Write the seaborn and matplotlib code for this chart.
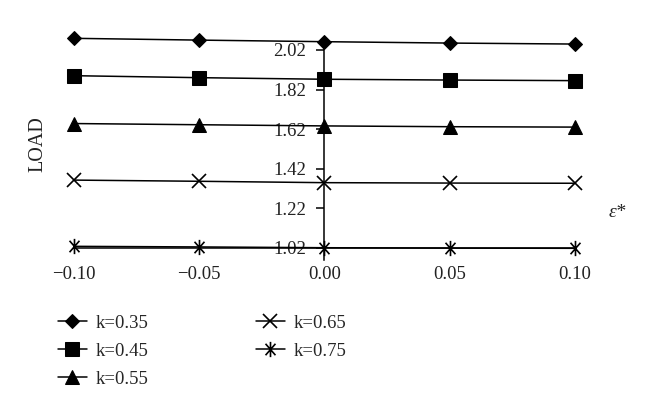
import numpy as np
import pandas as pd
import matplotlib
matplotlib.use("Agg")
import matplotlib.pyplot as plt
from matplotlib.path import Path
import seaborn as sns

# data
eps = [-0.10, -0.05, 0.00, 0.05, 0.10]
load_k035 = [2.079, 2.070, 2.062, 2.055, 2.050]
load_k045 = [1.890, 1.880, 1.872, 1.868, 1.865]
load_k055 = [1.648, 1.642, 1.636, 1.632, 1.630]
load_k065 = [1.362, 1.356, 1.349, 1.347, 1.346]
load_k075 = [1.027, 1.024, 1.020, 1.018, 1.017]
labels = ["k=0.35", "k=0.45", "k=0.55", "k=0.65", "k=0.75"]
yticks = [1.02, 1.22, 1.42, 1.62, 1.82, 2.02]
xticks = [-0.10, -0.05, 0.00, 0.05, 0.10]

# asterisk marker: vertical bar plus an x
star = Path(
    [(0, -1), (0, 1), (-0.65, -0.75), (0.65, 0.75), (-0.65, 0.75), (0.65, -0.75)],
    [Path.MOVETO, Path.LINETO, Path.MOVETO, Path.LINETO, Path.MOVETO, Path.LINETO],
)

sns.set_style("white")
plt.rcParams["font.family"] = ["Liberation Serif", "DejaVu Serif"]

fig = plt.figure(figsize=(6.6, 4.16), dpi=100)
ax = fig.add_axes([0.112, 0.376, 0.759, 0.5276])

styles = [
    dict(marker="D", markersize=7.5),
    dict(marker="s", markersize=9.5),
    dict(marker="^", markersize=10),
    dict(marker="x", markersize=10, markeredgewidth=1.2),
    dict(marker=star, markersize=11, markeredgewidth=1.2),
]
series = [load_k035, load_k045, load_k055, load_k065, load_k075]

for vals, lab, st in zip(series, labels, styles):
    sns.lineplot(x=eps, y=vals, ax=ax, color="black", linewidth=1.1,
                 markerfacecolor="black", markeredgecolor="black",
                 label=lab, clip_on=False, zorder=3, **st)

ax.set_xlim(-0.10, 0.10)
ax.set_ylim(0.96, 2.07)

ax.spines["left"].set_position(("data", 0.0))
ax.spines["bottom"].set_position(("data", 1.02))
ax.spines["top"].set_visible(False)
ax.spines["right"].set_visible(False)
for s in ("left", "bottom"):
    ax.spines[s].set_color("black")
    ax.spines[s].set_linewidth(1.1)

ax.set_xticks(xticks)
ax.set_xticklabels([f"{v:.2f}".replace("-", "\u2212") for v in xticks])
ax.set_yticks(yticks)
ax.set_yticklabels([f"{v:.2f}" for v in yticks])
ax.tick_params(axis="x", length=0, pad=13, labelsize=13.5, colors="#222222")
ax.tick_params(axis="y", direction="out", length=6, width=1.1, color="black",
               pad=7, labelsize=13.5, left=True, labelcolor="#222222")

fig.text(0.058, 0.654, "LOAD", rotation=90, ha="center", va="center",
         fontsize=14.5, color="#222222")
ax.text(0.117, 1.196, "\u03b5*", fontsize=14, fontstyle="italic",
        ha="center", va="center", color="#222222")

handles, labs = ax.get_legend_handles_labels()
ax.get_legend().remove()
fig.legend(handles, labs, ncol=2, loc="upper left", bbox_to_anchor=(0.076, 0.262),
           frameon=False, fontsize=13.5, handlelength=1.55, handletextpad=0.45,
           columnspacing=5.75, labelspacing=0.58, borderaxespad=0)

fig.savefig("out.png", dpi=100)
